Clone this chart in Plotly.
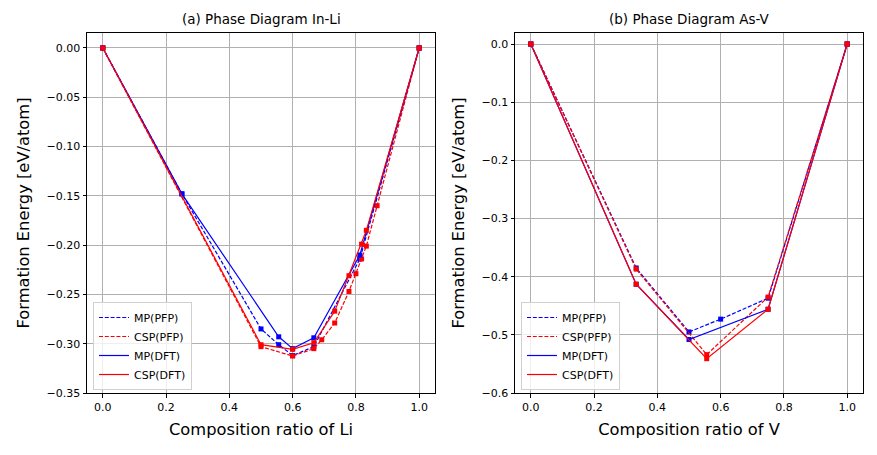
import plotly.graph_objects as go

# ---- data: (a) In-Li ----
inli_mp_pfp_x = [0.0, 0.25, 0.5, 0.556, 0.6, 0.667, 0.8125, 1.0]
inli_mp_pfp_y = [0.0, -0.148, -0.285, -0.301, -0.312, -0.303, -0.214, 0.0]
inli_csp_pfp_x = [0.0, 0.5, 0.6, 0.667, 0.692, 0.733, 0.778, 0.8, 0.818, 0.833, 0.867, 1.0]
inli_csp_pfp_y = [0.0, -0.303, -0.3125, -0.305, -0.296, -0.279, -0.247, -0.229, -0.214, -0.201, -0.160, 0.0]
inli_mp_dft_x = [0.0, 0.25, 0.556, 0.6, 0.667, 0.8125, 1.0]
inli_mp_dft_y = [0.0, -0.148, -0.293, -0.305, -0.294, -0.210, 0.0]
inli_csp_dft_x = [0.0, 0.5, 0.6, 0.667, 0.733, 0.778, 0.818, 0.833, 1.0]
inli_csp_dft_y = [0.0, -0.301, -0.3057, -0.299, -0.267, -0.231, -0.199, -0.185, 0.0]

# ---- data: (b) As-V ----
asv_mp_pfp_x = [0.0, 0.333, 0.5, 0.6, 0.75, 1.0]
asv_mp_pfp_y = [0.0, -0.385, -0.495, -0.473, -0.437, 0.0]
asv_csp_pfp_x = [0.0, 0.333, 0.556, 0.75, 1.0]
asv_csp_pfp_y = [0.0, -0.387, -0.534, -0.435, 0.0]
asv_mp_dft_x = [0.0, 0.333, 0.5, 0.75, 1.0]
asv_mp_dft_y = [0.0, -0.413, -0.508, -0.456, 0.0]
asv_csp_dft_x = [0.0, 0.333, 0.556, 0.75, 1.0]
asv_csp_dft_y = [0.0, -0.413, -0.541, -0.456, 0.0]

series_names = ["MP(PFP)", "CSP(PFP)", "MP(DFT)", "CSP(DFT)"]
series_colors = ["#0000ff", "#ff0000", "#0000ff", "#ff0000"]
series_dash = ["4px,1.8px", "4px,1.8px", "solid", "solid"]

panels = [
    [(inli_mp_pfp_x, inli_mp_pfp_y), (inli_csp_pfp_x, inli_csp_pfp_y),
     (inli_mp_dft_x, inli_mp_dft_y), (inli_csp_dft_x, inli_csp_dft_y)],
    [(asv_mp_pfp_x, asv_mp_pfp_y), (asv_csp_pfp_x, asv_csp_pfp_y),
     (asv_mp_dft_x, asv_mp_dft_y), (asv_csp_dft_x, asv_csp_dft_y)],
]
titles = ["(a) Phase Diagram In-Li", "(b) Phase Diagram As-V"]
xlabels = ["Composition ratio of Li", "Composition ratio of V"]

# page body has an 8px margin, so the figure is 8px smaller and everything shifted by 8
OFF = 8
W, H = 877 - OFF, 455 - OFF
FONT = "DejaVu Sans"
ML, MR, MT, MB = 87 - OFF, 14, 33 - OFF, 62
PW = W - ML - MR
PH = H - MT - MB

fig = go.Figure()

axes_ids = [("x", "y"), ("x2", "y2")]
for p, (xa, ya) in enumerate(axes_ids):
    for i, (xs, ys) in enumerate(panels[p]):
        fig.add_trace(go.Scatter(
            x=xs, y=ys, mode="lines+markers", xaxis=xa, yaxis=ya,
            line=dict(color=series_colors[i], width=1.2, dash=series_dash[i]),
            marker=dict(symbol="square", size=5, color=series_colors[i]),
            showlegend=False, name=series_names[i],
        ))
    legname = "legend" if p == 0 else "legend2"
    for i in range(4):
        fig.add_trace(go.Scatter(
            x=[None], y=[None], mode="lines", xaxis=xa, yaxis=ya,
            line=dict(color=series_colors[i], width=1.2, dash=series_dash[i]),
            name=series_names[i], legend=legname, showlegend=True,
        ))

def fx(px):
    return (px - OFF - ML) / PW

def fy(py):
    return (H - MB - (py - OFF)) / PH

dom_x1 = [fx(87), fx(435)]
dom_x2 = [fx(515), fx(863)]
dom_y = [0, 1]

common_axis = dict(
    showline=True, linecolor="black", linewidth=1, mirror=True,
    ticks="outside", ticklen=3.5, tickwidth=0.8, tickcolor="black",
    showgrid=True, gridcolor="#b0b0b0", gridwidth=0.8, zeroline=False,
    tickfont=dict(family=FONT, size=11, color="black"), automargin=False,
)
title_font = dict(family=FONT, size=16.3, color="black")

fig.update_layout(
    width=W, height=H,
    margin=dict(l=ML, r=MR, t=MT, b=MB, autoexpand=False),
    paper_bgcolor="white", plot_bgcolor="white",
    font=dict(family=FONT, color="black"),
    xaxis=dict(domain=dom_x1, range=[-0.05, 1.05], dtick=0.2, tick0=0, tickformat=".1f",
               title=dict(text=xlabels[0], font=title_font, standoff=10),
               anchor="y", **common_axis),
    yaxis=dict(domain=dom_y, range=[-0.35, 0.0152], dtick=0.05, tick0=0, tickformat=".2f",
               title=dict(text="Formation Energy [eV/atom]", font=title_font, standoff=12),
               anchor="x", **common_axis),
    xaxis2=dict(domain=dom_x2, range=[-0.05, 1.05], dtick=0.2, tick0=0, tickformat=".1f",
                title=dict(text=xlabels[1], font=title_font, standoff=10),
                anchor="y2", **common_axis),
    yaxis2=dict(domain=dom_y, range=[-0.6, 0.019], dtick=0.1, tick0=0, tickformat=".1f",
                title=dict(text="Formation Energy [eV/atom]", font=title_font, standoff=12),
                anchor="x2", **common_axis),
    legend=dict(x=fx(93), y=fy(390), xanchor="left", yanchor="bottom",
                bgcolor="rgba(255,255,255,0.8)", bordercolor="#d0d0d0", borderwidth=1,
                font=dict(family=FONT, size=11), itemwidth=30, tracegroupgap=0),
    legend2=dict(x=fx(521), y=fy(390), xanchor="left", yanchor="bottom",
                 bgcolor="rgba(255,255,255,0.8)", bordercolor="#d0d0d0", borderwidth=1,
                 font=dict(family=FONT, size=11), itemwidth=30, tracegroupgap=0),
)

for p, dom in enumerate([dom_x1, dom_x2]):
    fig.add_annotation(
        text=titles[p], xref="paper", yref="paper",
        x=(dom[0] + dom[1]) / 2, y=1, xanchor="center", yanchor="bottom",
        yshift=4, showarrow=False, font=dict(family=FONT, size=13.5, color="black"),
    )

fig.write_html("out.html")
